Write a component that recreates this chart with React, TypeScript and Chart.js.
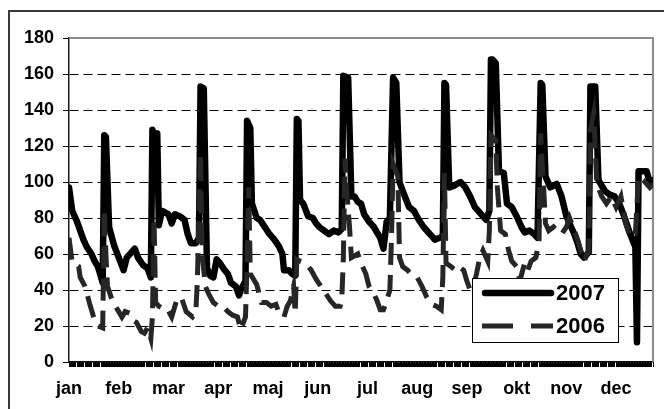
import React, { useEffect, useRef } from 'react';
import { Chart, registerables } from 'chart.js';

Chart.register(...registerables);

const monthLabels = ['jan', 'feb', 'mar', 'apr', 'maj', 'jun', 'jul', 'aug', 'sep', 'okt', 'nov', 'dec'];
const seriesNames = ['2007', '2006'];
const yMin = 0;
const yMax = 180;
const yStep = 20;
const dayCount = 365;
const labelEvery = 31;

const days2007 = [
  0, 2, 5, 7, 9, 11, 14, 16, 18, 20,
  21, 22, 23, 25, 28, 31, 34, 36, 39, 41,
  43, 46, 49, 51, 52, 53, 55, 56, 58, 60,
  62, 64, 66, 69, 72, 74, 76, 79, 81, 82,
  84, 86, 88, 90, 92, 94, 97, 99, 101, 104,
  106, 107, 110, 111, 113, 114, 117, 119, 122, 125,
  128, 131, 133, 134, 137, 139, 141, 142, 143, 144,
  146, 149, 152, 154, 156, 159, 162, 165, 168, 170,
  171, 174, 176, 178, 180, 182, 184, 187, 190, 194,
  196, 198, 200, 202, 204, 206, 208, 212, 215, 218,
  221, 225, 228, 231, 233, 234, 235, 237, 240, 244,
  247, 250, 253, 257, 260, 262, 263, 264, 266, 268,
  271, 273, 276, 279, 282, 284, 287, 290, 292, 294,
  295, 297, 300, 304, 307, 310, 313, 315, 317, 319,
  321, 324, 325, 328, 330, 334, 337, 340, 343, 346,
  349, 352, 353, 354, 355, 360, 362, 364,
];
const values2007 = [
  97, 84, 78, 73, 68, 64, 60, 56, 53, 47,
  44, 126, 125, 75, 65, 58, 51, 58, 61, 63,
  58, 54, 52, 47, 129, 126, 127, 76, 84, 83,
  82, 77, 82, 81, 79, 71, 66, 66, 69, 153,
  152, 52, 48, 47, 57, 55, 51, 49, 44, 42,
  37, 40, 45, 134, 130, 88, 80, 79, 75, 71,
  68, 64, 60, 51, 51, 49, 48, 135, 134, 90,
  88, 81, 80, 77, 75, 73, 71, 73, 72, 74,
  159, 158, 92, 92, 89, 88, 82, 78, 75, 69,
  63, 78, 80, 158, 155, 100, 95, 86, 84, 79,
  75, 71, 68, 69, 70, 155, 154, 97, 98, 100,
  97, 92, 86, 82, 79, 84, 168, 168, 166, 106,
  105, 88, 86, 81, 75, 72, 73, 71, 69, 155,
  154, 103, 97, 99, 92, 81, 75, 71, 66, 60,
  58, 61, 153, 153, 101, 95, 93, 92, 88, 81,
  73, 66, 64, 11, 106, 106, 100, 101,
];

const days2006 = [
  0, 2, 4, 6, 7, 10, 13, 16, 18, 21,
  22, 23, 24, 27, 29, 31, 33, 35, 38, 40,
  42, 45, 47, 49, 51, 52, 53, 54, 56, 58,
  61, 64, 67, 70, 73, 77, 79, 80, 82, 83,
  85, 87, 90, 93, 96, 99, 102, 105, 107, 110,
  111, 112, 113, 117, 120, 123, 126, 129, 131, 134,
  136, 138, 140, 141, 142, 144, 147, 151, 154, 157,
  160, 163, 166, 169, 170, 171, 172, 173, 175, 176,
  180, 182, 185, 187, 190, 192, 194, 196, 198, 200,
  201, 202, 205, 206, 208, 211, 214, 217, 220, 223,
  226, 229, 232, 233, 234, 235, 238, 241, 243, 246,
  248, 250, 252, 254, 256, 258, 261, 262, 263, 266,
  267, 269, 272, 274, 276, 279, 281, 284, 286, 288,
  291, 293, 294, 297, 299, 302, 304, 307, 310, 312,
  315, 317, 319, 321, 324, 325, 327, 329, 332, 335,
  338, 341, 344, 347, 350, 353, 355, 358, 362, 364,
];
const values2006 = [
  69, 55, 54, 53, 47, 42, 32, 23, 20, 19,
  85, 60, 42, 34, 31, 28, 25, 28, 27, 23,
  22, 17, 16, 19, 13, 25, 80, 33, 31, 30,
  30, 25, 34, 36, 28, 25, 27, 45, 116, 60,
  42, 38, 33, 31, 31, 28, 26, 25, 18, 25,
  55, 97, 49, 43, 33, 33, 31, 32, 27, 25,
  31, 34, 42, 27, 57, 56, 55, 51, 46, 42,
  38, 34, 31, 31, 34, 58, 113, 97, 73, 58,
  60, 55, 49, 42, 38, 34, 29, 29, 34, 40,
  69, 110, 103, 58, 53, 51, 48, 47, 42, 36,
  32, 31, 29, 47, 105, 55, 53, 51, 53, 51,
  45, 40, 42, 49, 58, 62, 56, 73, 126, 123,
  97, 73, 71, 62, 56, 53, 45, 55, 51, 56,
  58, 68, 127, 77, 73, 75, 73, 71, 75, 80,
  73, 68, 62, 56, 62, 129, 138, 99, 92, 88,
  92, 86, 92, 77, 69, 71, 103, 101, 97, 99,
];

const FONT = "'Liberation Sans', Arial, sans-serif";

const toPoints = (days: number[], vals: number[]) => days.map((d, i) => ({ x: d, y: vals[i] }));

const framePlugin = {
  id: 'frame',
  beforeDraw(chart: any) {
    const { ctx, width, height } = chart;
    ctx.save();
    ctx.fillStyle = '#ffffff';
    ctx.fillRect(0, 0, width, height);
    ctx.strokeStyle = '#3a3a3a';
    ctx.lineWidth = 2;
    ctx.strokeRect(9, 11, width + 50, height + 50);
    ctx.restore();
  },
  beforeDatasetsDraw(chart: any) {
    const { ctx, chartArea } = chart;
    ctx.save();
    ctx.strokeStyle = '#8c8c8c';
    ctx.lineWidth = 2;
    ctx.beginPath();
    ctx.moveTo(chartArea.left, chartArea.top);
    ctx.lineTo(chartArea.right, chartArea.top);
    ctx.lineTo(chartArea.right, chartArea.bottom);
    ctx.stroke();
    ctx.restore();
  },
  afterDatasetsDraw(chart: any) {
    // minor day tick marks under the category axis, placed through the x scale
    const { ctx, chartArea } = chart;
    const xs = chart.scales.x;
    ctx.save();
    ctx.strokeStyle = '#000000';
    ctx.lineWidth = 1;
    ctx.beginPath();
    for (let i = 0; i < dayCount; i++) {
      const px = Math.round(xs.getPixelForValue(i)) + 0.5;
      ctx.moveTo(px, chartArea.bottom);
      ctx.lineTo(px, chartArea.bottom + 5);
    }
    ctx.stroke();
    ctx.restore();
  },
};

const legendPlugin = {
  id: 'boxLegend',
  afterDraw(chart: any) {
    const { ctx } = chart;
    const bx = 472.5, by = 278.5, bw = 146, bh = 64;
    ctx.save();
    ctx.fillStyle = '#ffffff';
    ctx.fillRect(bx, by, bw, bh);
    ctx.strokeStyle = '#000000';
    ctx.lineWidth = 1;
    ctx.strokeRect(bx, by, bw, bh);

    ctx.strokeStyle = '#000000';
    ctx.lineWidth = 6.5;
    ctx.lineCap = 'round';
    ctx.beginPath();
    ctx.moveTo(485, 293);
    ctx.lineTo(551, 293);
    ctx.stroke();

    ctx.strokeStyle = '#262626';
    ctx.lineWidth = 5;
    ctx.lineCap = 'butt';
    ctx.setLineDash([31, 18]);
    ctx.beginPath();
    ctx.moveTo(482, 326);
    ctx.lineTo(553, 326);
    ctx.stroke();
    ctx.setLineDash([]);

    ctx.fillStyle = '#000000';
    ctx.font = `bold 22px ${FONT}`;
    ctx.textBaseline = 'middle';
    ctx.textAlign = 'left';
    ctx.fillText(seriesNames[0], 556, 294);
    ctx.fillText(seriesNames[1], 556, 327);
    ctx.restore();
  },
};

export default function App() {
  const ref = useRef<HTMLCanvasElement | null>(null);

  useEffect(() => {
    if (!ref.current) return;
    const chart = new Chart(ref.current, {
      type: 'line',
      data: {
        datasets: [
          {
            label: seriesNames[0],
            data: toPoints(days2007, values2007),
            borderColor: '#000000',
            borderWidth: 6.5,
            borderJoinStyle: 'round',
            borderCapStyle: 'round',
            pointRadius: 0,
            tension: 0,
            order: 2,
          },
          {
            label: seriesNames[1],
            data: toPoints(days2006, values2006),
            borderColor: '#262626',
            borderWidth: 5,
            borderDash: [22, 10],
            borderJoinStyle: 'miter',
            borderCapStyle: 'butt',
            pointRadius: 0,
            tension: 0,
            order: 1,
          },
        ],
      },
      options: {
        animation: false,
        responsive: true,
        maintainAspectRatio: false,
        layout: { padding: { left: 9, right: 5, top: 38, bottom: 0 } },
        plugins: { legend: { display: false }, tooltip: { enabled: false }, title: { display: false } },
        scales: {
          x: {
            type: 'linear',
            min: 0,
            max: dayCount - 1,
            afterBuildTicks: (scale: any) => {
              scale.ticks = Array.from({ length: dayCount }, (_, i) => ({ value: i }));
            },
            afterFit: (scale: any) => {
              scale.height = 47;
            },
            grid: {
              display: true,
              drawOnChartArea: false,
              drawTicks: true,
              tickLength: 5,
              color: '#000000',
              tickColor: '#000000',
              tickWidth: 1,
              lineWidth: 1,
            },
            border: { display: true, color: '#000000', width: 1.5 },
            ticks: {
              autoSkip: false,
              maxTicksLimit: 1000,
              maxRotation: 0,
              minRotation: 0,
              padding: 11,
              color: '#000000',
              font: { family: FONT, weight: 'bold', size: 18 },
              callback: (value: any) => {
                const v = Number(value);
                if (v % labelEvery === 0 && v / labelEvery < monthLabels.length) return monthLabels[v / labelEvery];
                return '';
              },
            },
          },
          y: {
            min: yMin,
            max: yMax,
            afterFit: (scale: any) => {
              scale.width = 60;
            },
            grid: {
              color: (c: any) => (c.tick && (c.tick.value === yMin || c.tick.value === yMax) ? 'rgba(0,0,0,0)' : '#000000'),
              tickColor: '#000000',
              lineWidth: 1,
              tickLength: 6,
            },
            border: { display: true, color: '#1a1a1a', width: 1.5, dash: [9, 5] },
            ticks: {
              stepSize: yStep,
              padding: 9,
              color: '#000000',
              font: { family: FONT, weight: 'bold', size: 18 },
            },
          },
        },
      },
      plugins: [framePlugin, legendPlugin],
    } as any);
    return () => chart.destroy();
  }, []);

  return (
    <div style={{ position: 'fixed', left: 0, top: 0, width: 664, height: 409 }}>
      <canvas ref={ref} />
    </div>
  );
}
